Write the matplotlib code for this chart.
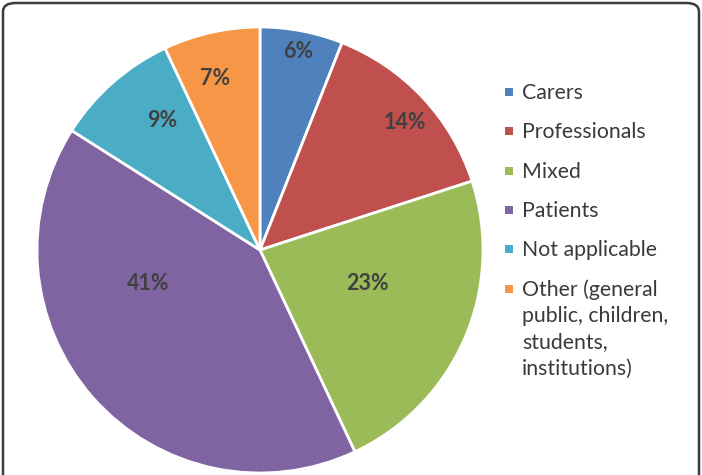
import matplotlib.pyplot as plt
from matplotlib.patches import FancyBboxPatch, Rectangle

# audience groups and their share (%)
groups = ["Carers", "Professionals", "Mixed", "Patients", "Not applicable",
          "Other (general\npublic, children,\nstudents,\ninstitutions)"]
shares = [6, 14, 23, 41, 9, 7]
colors = ["#4F81BD", "#C0504D", "#9BBB59", "#8064A2", "#4BACC6", "#F79646"]

# where each percentage label sits (data coords, pie radius = 1)
label_pos = [(0.17, 0.89), (0.65, 0.57), (0.48, -0.15),
             (-0.50, -0.15), (-0.44, 0.58), (-0.20, 0.77)]

plt.rcParams['font.family'] = ['Lato', 'DejaVu Sans']

W, H = 702, 475
fig = plt.figure(figsize=(W / 100, H / 100), dpi=100)

# rounded frame around the figure (bottom runs off the picture)
frame = FancyBboxPatch((3 / W, -40 / H), (W - 6) / W, (H + 37) / H,
                       boxstyle="round,pad=0,rounding_size=0.018",
                       transform=fig.transFigure, fill=False,
                       edgecolor="#3c3c3c", linewidth=1.8)
fig.patches.append(frame)

cx, cy, r = 260, H - 250, 223
ax = fig.add_axes([(cx - r) / W, (cy - r) / H, 2 * r / W, 2 * r / H])
wedges, _, pct = ax.pie(shares, colors=colors, startangle=90, counterclock=False,
                        autopct=lambda p: f"{p:.0f}%",
                        wedgeprops=dict(edgecolor="white", linewidth=2))
ax.set_xlim(-1, 1)
ax.set_ylim(-1, 1)
ax.set_aspect("equal")
for t, (x, y) in zip(pct, label_pos):
    t.set_position((x, y))
    t.set_fontsize(15.5)
    t.set_fontweight("bold")
    t.set_color("#404040")

# legend drawn by hand so the marker sits on the first line of each label
y0, step, sq = 92, 39.3, 8
for i, (name, c) in enumerate(zip(groups, colors)):
    y = y0 + i * step
    fig.patches.append(Rectangle((505 / W, 1 - (y + sq / 2) / H), sq / W, sq / H,
                                 transform=fig.transFigure, facecolor=c,
                                 edgecolor="none"))
    fig.text(522 / W, 1 - (y - 9) / H, name, fontsize=15.3, color="#3a3a3a",
             va="top", ha="left", linespacing=1.39)

fig.savefig("out.png", dpi=100)
